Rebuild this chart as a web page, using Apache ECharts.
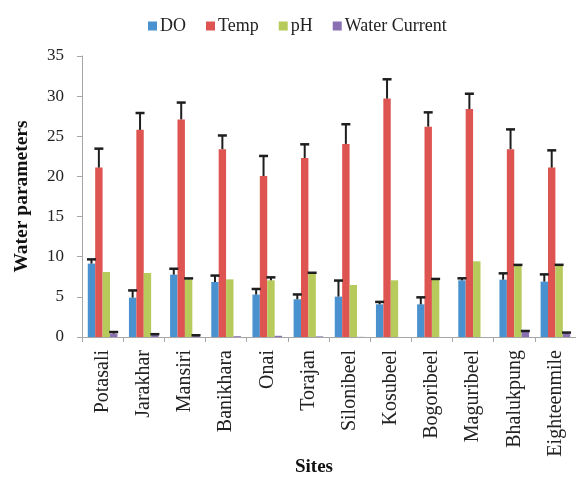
<!DOCTYPE html>
<html>
<head>
<meta charset="utf-8">
<script src="https://cdn.jsdelivr.net/npm/echarts@6/dist/echarts.min.js"></script>
<style>
  html, body { margin: 0; padding: 0; background: #fff; }
  #chart { width: 576px; height: 477px; }
</style>
</head>
<body>
<div id="chart"></div>
<script>
// sites along the x axis
const sites = ["Potasali", "Jarakhar", "Mansiri", "Banikhara", "Onai", "Torajan",
  "Silonibeel", "Kosubeel", "Bogoribeel", "Maguribeel", "Bhalukpung", "Eighteenmile"];

// means
const doVals   = [9.14, 4.9, 7.77, 6.85, 5.28, 4.7, 5.03, 4.07, 4.07, 7.06, 7.14, 6.9];
const tempVals = [21.1, 25.8, 27.1, 23.4, 20.05, 22.3, 24.05, 29.7, 26.2, 28.4, 23.4, 21.1];
const phVals   = [8.1, 7.97, 7.2, 7.18, 7.06, 7.9, 6.48, 7.06, 7.18, 9.43, 8.93, 8.89];
const wcVals   = [0.42, 0.3, 0.17, 0.1, 0.15, 0.08, 0.02, 0, 0, 0, 0.62, 0.42];

// upper error bars (SD)
const doErr   = [0.53, 0.9, 0.73, 0.8, 0.7, 0.6, 2.0, 0.3, 0.87, 0.25, 0.79, 0.9];
const tempErr = [2.36, 2.1, 2.1, 1.7, 2.5, 1.7, 2.45, 2.4, 1.78, 1.9, 2.46, 2.15];
const phErr   = [0, 0, 0.1, 0, 0.37, 0.1, 0, 0, 0.05, 0, 0.05, 0.1];
const wcErr   = [0.2, 0.05, 0.05, 0, 0, 0, 0, 0, 0, 0, 0.13, 0.13];

const yTicks = { min: 0, max: 35, step: 5 };

const names = ["DO", "Temp", "pH", "Water Current"];
const colors = ["#4a92cf", "#dd5450", "#b6cb5b", "#8a6fb3"];
const vals = [doVals, tempVals, phVals, wcVals];
const errs = [doErr, tempErr, phErr, wcErr];
const catGap = 0.28;
const font = "'Liberation Serif', 'Times New Roman', serif";

const chart = echarts.init(document.getElementById("chart"));

function errRender(k) {
  return function (params, api) {
    const err = api.value(2);
    if (!err) return;
    const cat = api.value(0);
    const val = api.value(1);
    const band = api.size([1, 0])[0];
    const w = band * (1 - catGap) / 4;
    const base = api.coord([cat, val]);
    const top = api.coord([cat, val + err]);
    const x = base[0] + (k - 1.5) * w;
    return {
      type: "group",
      children: [
        { type: "line", shape: { x1: x, y1: base[1], x2: x, y2: top[1] },
          style: { stroke: "#1e1e1e", lineWidth: 2 } },
        { type: "line", shape: { x1: x - 4.5, y1: top[1], x2: x + 4.5, y2: top[1] },
          style: { stroke: "#1e1e1e", lineWidth: 2.5 } }
      ]
    };
  };
}

const series = [];
names.forEach(function (n, k) {
  series.push({
    name: n,
    type: "bar",
    barGap: "0%",
    barCategoryGap: (catGap * 100) + "%",
    itemStyle: { color: colors[k] },
    data: vals[k]
  });
});
names.forEach(function (n, k) {
  series.push({
    name: n + " err",
    type: "custom",
    renderItem: errRender(k),
    encode: { x: 0, y: 1 },
    z: 5,
    silent: true,
    data: vals[k].map(function (v, i) { return [i, v, errs[k][i]]; })
  });
});

chart.setOption({
  animation: false,
  backgroundColor: "#fff",
  legend: {
    data: names,
    left: 143,
    top: 12,
    itemWidth: 9,
    itemHeight: 9,
    itemGap: 20,
    icon: "rect",
    textStyle: { fontFamily: font, fontSize: 18, color: "#222", padding: [0, 0, 0, -2] }
  },
  grid: { left: 82, right: -4, top: 56, bottom: 140 },
  xAxis: {
    type: "category",
    data: sites,
    axisLine: { lineStyle: { color: "#a6a6a6", width: 1 } },
    axisTick: { show: true, length: 5, lineStyle: { color: "#a6a6a6" } },
    axisLabel: {
      rotate: 90,
      interval: 0,
      margin: 13,
      fontFamily: font,
      fontSize: 20,
      color: "#222"
    }
  },
  yAxis: {
    type: "value",
    min: yTicks.min,
    max: yTicks.max,
    interval: yTicks.step,
    name: "Water parameters",
    nameLocation: "middle",
    nameGap: 50,
    nameTextStyle: { fontFamily: font, fontSize: 19.5, fontWeight: "bold", color: "#111" },
    axisLine: { show: true, lineStyle: { color: "#a6a6a6", width: 1 } },
    axisTick: { show: true, length: 5, lineStyle: { color: "#a6a6a6" } },
    splitLine: { show: false },
    axisLabel: { fontFamily: font, fontSize: 17, color: "#222", margin: 18 }
  },
  graphic: [{
    type: "text",
    left: 295,
    top: 458,
    style: { text: "Sites", font: "bold 19px " + font, fill: "#111" }
  }],
  series: series
});
</script>
</body>
</html>
